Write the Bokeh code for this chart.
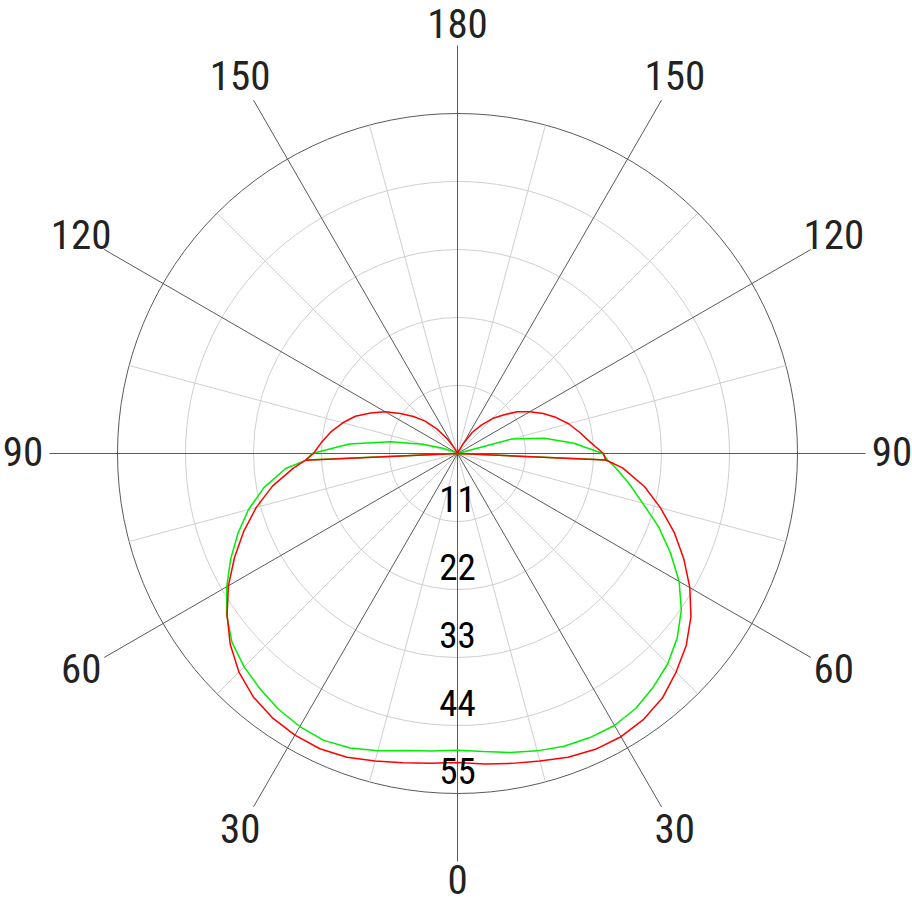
import numpy as np
from bokeh.plotting import figure
from bokeh.models import Range1d
from bokeh.core.properties import value
from bokeh.embed import file_html
from bokeh.resources import INLINE

# ---- data (intensity values) ----
angles_lower = [0, 5, 10, 15, 20, 25, 30, 35, 40, 45, 50, 55, 60, 65, 70, 75, 80, 85, 87.5]
red_left_lower = [50.0, 50.3, 50.8, 51.5, 52.3, 52.7, 52.6, 52.2, 51.4, 50.0, 48.0, 45.5, 42.8, 39.8, 36.8, 33.7, 30.4, 26.6, 24.6]
red_right_lower = [50.0, 50.4, 50.9, 51.5, 52.3, 52.8, 52.9, 52.5, 51.6, 50.0, 48.3, 46.1, 43.4, 40.4, 37.3, 34.0, 30.7, 26.8, 24.0]
green_left_lower = [48.0, 48.3, 48.8, 49.8, 50.7, 51.2, 51.0, 50.5, 49.7, 48.8, 47.6, 45.6, 43.1, 40.5, 37.8, 35.0, 31.8, 27.9, 24.5]
green_right_lower = [48.0, 48.4, 49.1, 49.8, 50.4, 50.7, 50.8, 50.3, 49.3, 48.1, 46.4, 44.2, 41.4, 38.0, 34.6, 31.0, 28.2, 25.6, 24.3]

angles_upper = [90, 95, 100, 105, 110, 115, 120, 125, 130, 135, 140, 145, 150, 155, 160, 165, 170, 175, 180]
red_left_upper = [23.3, 22.0, 20.7, 19.2, 17.6, 15.5, 13.5, 11.3, 9.3, 7.4, 5.2, 2.9, 1.0, 0.2, 0, 0, 0, 0, 0]
red_right_upper = [23.6, 21.5, 20.0, 18.6, 17.0, 15.3, 13.5, 11.8, 9.7, 8.0, 6.0, 4.2, 1.8, 0.3, 0, 0, 0, 0, 0]
green_left_upper = [23.5, 17.6, 11.0, 5.8, 2.5, 0.8, 0, 0, 0, 0, 0, 0, 0, 0, 0, 0, 0, 0, 0]
green_right_upper = [23.5, 18.9, 14.3, 9.0, 0, 0, 0, 0, 0, 0, 0, 0, 0, 0, 0, 0, 0, 0, 0]

ring_values = [11, 22, 33, 44, 55]
ring_labels = ["11", "22", "33", "44", "55"]
angle_ticks = [0, 30, 60, 90, 120, 150, 180]
angle_labels = ["0", "30", "60", "90", "120", "150", "180"]

# ---- layout ----
W, H = 912, 904
PX = 340.0 / 55.0          # pixels per unit
CX, CY = 457.0, 453.0       # centre in figure pixels (from top-left)
FONT = "Liberation Sans Narrow, Roboto Condensed, Roboto, sans-serif"

p = figure(width=W, height=H,
           x_range=Range1d(-CX / PX, (W - CX) / PX),
           y_range=Range1d(-(H - CY) / PX, CY / PX),
           output_backend="svg", toolbar_location=None, min_border=0,
           x_axis_location=None, y_axis_location=None)
p.grid.visible = False
p.outline_line_color = None
p.background_fill_color = "white"
p.border_fill_color = "white"

def pol(g, r, side):
    g = np.radians(np.asarray(g, dtype=float))
    r = np.asarray(r, dtype=float)
    return side * r * np.sin(g), -r * np.cos(g)

rmax = ring_values[-1]

# rings
for v in ring_values[:-1]:
    p.circle(x=[0], y=[0], radius=v, fill_color=None, line_color="#cfcfcf", line_width=1)
p.circle(x=[0], y=[0], radius=rmax, fill_color=None, line_color="#5a5a5a", line_width=1)

# spokes
lx, ly, dx_, dy_ = [], [], [], []
for a in range(0, 360, 15):
    if a % 30 == 0:
        x, y = pol([a], [rmax * 1.2], 1)
        dx_.append([0, x[0]]); dy_.append([0, y[0]])
    else:
        x, y = pol([a], [rmax], 1)
        lx.append([0, x[0]]); ly.append([0, y[0]])
p.multi_line(xs=lx, ys=ly, line_color="#cfcfcf", line_width=1)
p.multi_line(xs=dx_, ys=dy_, line_color="#5a5a5a", line_width=1)

# curves
def draw(left_low, right_low, left_up, right_up, color):
    xl, yl = pol(angles_lower, left_low, -1)
    xr, yr = pol(angles_lower, right_low, 1)
    xlu, ylu = pol(angles_upper, left_up, -1)
    xru, yru = pol(angles_upper, right_up, 1)
    xs = list(xlu[::-1]) + list(xl[::-1]) + list(xr) + list(xru)
    ys = list(ylu[::-1]) + list(yl[::-1]) + list(yr) + list(yru)
    p.line(xs, ys, line_color=color, line_width=1.5)
    p.multi_line(xs=[[0, xl[-1]], [0, xr[-1]]], ys=[[0, yl[-1]], [0, yr[-1]]],
                 line_color=color, line_width=1.5)

draw(green_left_lower, green_right_lower, green_left_upper, green_right_upper, "#00ee00")
draw(red_left_lower, red_right_lower, red_left_upper, red_right_upper, "#ff0000")

# angle labels (visual centre at radius R)
OUT_FS = 41.0
IN_FS = 37.0
tx, ty, tt = [], [], []
shift_out = (0.41 * OUT_FS - 15.0) / PX
for a, lab in zip(angle_ticks, angle_labels):
    R = 69.2 if a in (0, 180) else 70.3
    for side in ([1] if a in (0, 180) else [-1, 1]):
        x, y = pol([a], [R], side)
        tx.append(x[0]); ty.append(y[0] + shift_out); tt.append(lab)
p.text(x=tx, y=ty, text=tt, text_font=value(FONT), text_font_size=f"{OUT_FS:.0f}px",
       text_align="center", text_baseline="alphabetic", text_color="#222222")

# ring labels (visual centre 21px inside each ring)
shift_in = (21.0 - 13.35 + 0.41 * IN_FS) / PX
p.text(x=[0] * len(ring_values), y=[-v + shift_in for v in ring_values], text=ring_labels,
       text_font=value(FONT), text_font_size=f"{IN_FS:.0f}px", text_align="center",
       text_baseline="alphabetic", text_color="#000000")

open("out.html", "w").write(file_html(p, INLINE))
